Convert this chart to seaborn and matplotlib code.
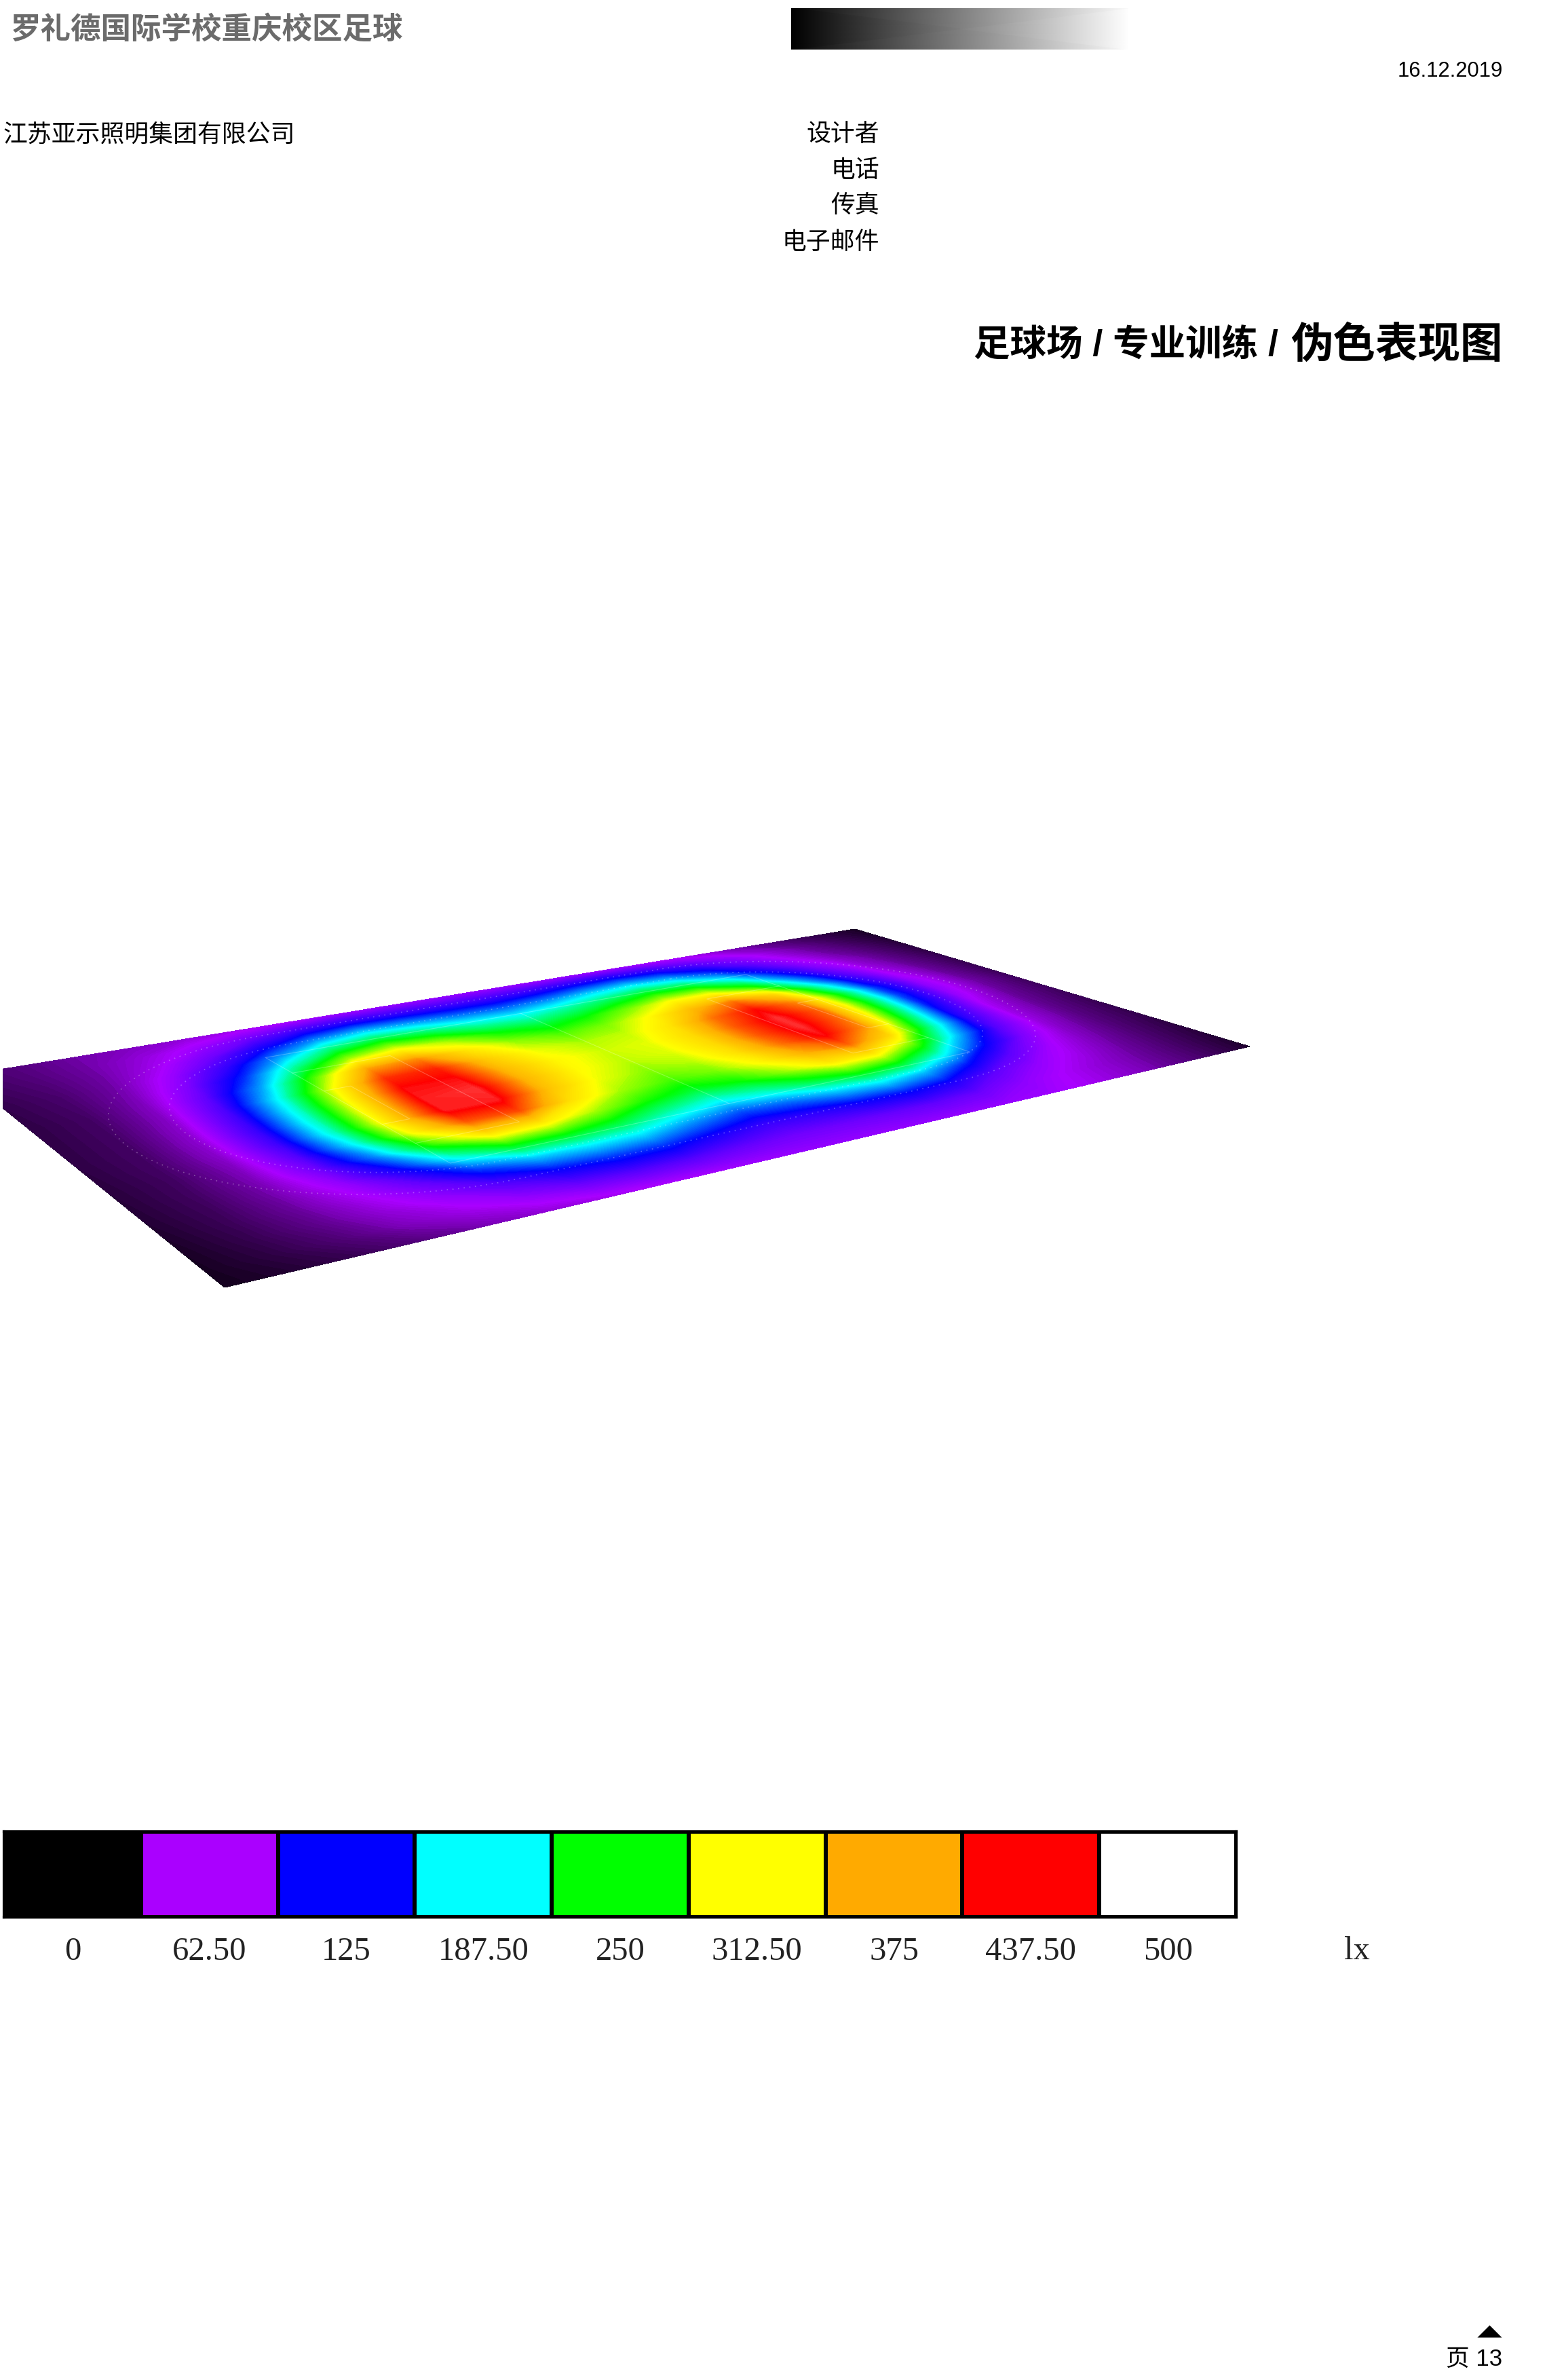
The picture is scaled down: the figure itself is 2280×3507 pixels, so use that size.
import numpy as np
import seaborn as sns
import matplotlib
matplotlib.use('Agg')
from matplotlib import pyplot as plt
from matplotlib.colors import LinearSegmentedColormap, ListedColormap

sns.set_theme(style="white")
plt.rcParams['font.family'] = ['Noto Sans CJK SC', 'DejaVu Sans']

W, H = 2280, 3507

# legend
legend_levels = [0, 62.5, 125, 187.5, 250, 312.5, 375, 437.5, 500]
legend_labels = ["0", "62.50", "125", "187.50", "250", "312.50", "375", "437.50", "500"]
legend_colors = ["#000000", "#aa00ff", "#0000ff", "#00ffff", "#00ff00",
                 "#ffff00", "#ffaa00", "#ff0000", "#ffffff"]

# illuminance on the pitch plane
# rows go from the far long edge to the near one, columns from left end to right end
u_pos = [i / 20 for i in range(21)]
v_pos = [i / 16 for i in range(17)]
lux = [
    [26, 33, 42, 47, 53, 58, 62, 67, 69, 70, 70, 69, 68, 68, 66, 62, 52, 39, 27, 18, 10],
    [24, 32, 42, 54, 68, 86, 106, 115, 112, 108, 106, 111, 120, 125, 116, 96, 74, 53, 36, 23, 12],
    [22, 30, 42, 60, 85, 122, 160, 178, 168, 155, 150, 160, 178, 188, 172, 135, 95, 64, 42, 28, 15],
    [20, 28, 43, 70, 108, 167, 222, 245, 228, 203, 195, 210, 230, 250, 240, 189, 125, 78, 50, 32, 17],
    [19, 27, 45, 80, 135, 218, 290, 315, 288, 250, 235, 250, 280, 315, 315, 255, 165, 96, 56, 35, 20],
    [18, 26, 47, 90, 165, 270, 375, 385, 330, 286, 268, 280, 315, 362, 395, 340, 215, 118, 64, 38, 21],
    [18, 26, 48, 98, 190, 310, 420, 425, 352, 308, 291, 297, 332, 395, 435, 385, 255, 138, 72, 41, 22],
    [18, 26, 50, 103, 200, 325, 440, 440, 362, 318, 299, 305, 340, 405, 450, 400, 265, 142, 74, 43, 24],
    [18, 26, 51, 106, 205, 332, 445, 450, 365, 316, 295, 304, 340, 405, 450, 395, 258, 134, 70, 41, 24],
    [17, 26, 50, 104, 205, 335, 445, 445, 358, 308, 284, 295, 335, 395, 440, 380, 240, 120, 62, 38, 24],
    [16, 25, 47, 96, 190, 315, 405, 410, 335, 290, 267, 280, 318, 370, 400, 340, 215, 108, 58, 36, 22],
    [15, 25, 45, 85, 160, 262, 335, 330, 292, 257, 237, 252, 287, 328, 330, 270, 175, 95, 55, 34, 21],
    [14, 24, 43, 72, 122, 197, 250, 252, 238, 209, 190, 205, 235, 258, 248, 197, 128, 80, 50, 32, 20],
    [12, 23, 40, 62, 90, 138, 175, 184, 183, 160, 142, 152, 174, 186, 171, 130, 92, 66, 46, 30, 18],
    [10, 21, 36, 54, 72, 96, 122, 133, 133, 117, 105, 110, 121, 126, 116, 90, 72, 58, 42, 28, 16],
    [9, 18, 30, 46, 58, 72, 87, 94, 94, 88, 84, 85, 88, 90, 86, 73, 62, 51, 39, 26, 14],
    [8, 14, 22, 33, 44, 53, 58, 62, 65, 68, 71, 71, 71, 71, 70, 67, 59, 49, 37, 25, 12],
]

# pitch corners in the page: (u,v) = (0,0), (1,0), (1,1), (0,1)
corners = np.array([[-55, 1585], [1260, 1369], [1842, 1542], [331, 1897]], dtype=float)

# pitch markings in (u,v)
pitch_u = [.24, .775, .775, .24, .24]
pitch_v = [.17, .17, .77, .77, .17]
marking_lines = [
    ([.505, .505], [.17, .77]),
    ([.24, .335, .335, .24], [.27, .27, .67, .67]),
    ([.775, .685, .685, .775], [.27, .27, .67, .67]),
    ([.24, .265, .265, .24], [.38, .38, .57, .57]),
    ([.775, .75, .75, .775], [.38, .38, .57, .57]),
]
# running track: u range, v range, arc depth along u
tracks = [(.05, .93, .05, .875, .22), (.10, .88, .12, .80, .18)]


def page_axes(fig, x0, y0, x1, y1):
    return fig.add_axes([x0 / W, 1 - y1 / H, (x1 - x0) / W, (y1 - y0) / H])


def homography(c):
    # unit square -> quad
    A, b = [], []
    for (u, v), (x, y) in zip([(0, 0), (1, 0), (1, 1), (0, 1)], c):
        A.append([u, v, 1, 0, 0, 0, -u * x, -v * x])
        A.append([0, 0, 0, u, v, 1, -u * y, -v * y])
        b += [x, y]
    return np.append(np.linalg.solve(np.array(A), np.array(b)), 1).reshape(3, 3)


def to_page(m, u, v):
    u, v = np.asarray(u, dtype=float), np.asarray(v, dtype=float)
    d = m[2, 0] * u + m[2, 1] * v + m[2, 2]
    return (m[0, 0] * u + m[0, 1] * v + m[0, 2]) / d, (m[1, 0] * u + m[1, 1] * v + m[1, 2]) / d


def stadium(u0, u1, v0, v1, depth):
    t = np.linspace(-np.pi / 2, np.pi / 2, 40)
    vc, vr = (v0 + v1) / 2, (v1 - v0) / 2
    us = np.r_[u1 - depth + depth * np.cos(t), u0 + depth - depth * np.cos(t), u1 - depth]
    vs = np.r_[vc + vr * np.sin(t), vc - vr * np.sin(t), v0]
    return us, vs


fig = plt.figure(figsize=(W / 100, H / 100), dpi=100, facecolor="white")

# whole page axes, pixel coordinates, left edge of the picture cut at x=4
ax = page_axes(fig, 4, 0, W, H)
ax.set_xlim(4, W)
ax.set_ylim(H, 0)
ax.axis("off")

field_cmap = LinearSegmentedColormap.from_list(
    "lux", [(lv / 500, c) for lv, c in zip(legend_levels, legend_colors)])
m = homography(corners)
uu, vv = np.meshgrid(u_pos, v_pos)
X, Y = to_page(m, uu, vv)
ax.contourf(X, Y, np.array(lux, dtype=float), levels=np.linspace(0, 500, 251),
            cmap=field_cmap, vmin=0, vmax=500, extend="both")

# pitch lines and track, very faint in the reference
px, py = to_page(m, pitch_u, pitch_v)
ax.plot(px, py, color="white", lw=0.8, alpha=0.25)
for lu, lv in marking_lines:
    lx, ly = to_page(m, lu, lv)
    ax.plot(lx, ly, color="white", lw=0.8, alpha=0.25)
for tr in tracks:
    tu, tv = stadium(*tr)
    tx, ty = to_page(m, tu, tv)
    ax.plot(tx, ty, color="white", lw=1.2, alpha=0.3, ls=(0, (1, 4)))

# legend strip
lax = page_axes(fig, 6, 2699, 1822, 2825)
sns.heatmap(np.array([legend_levels]), cmap=ListedColormap(legend_colors), vmin=-31.25, vmax=531.25,
            cbar=False, linewidths=3, linecolor="black", xticklabels=legend_labels,
            yticklabels=False, ax=lax)
for sp in lax.spines.values():
    sp.set_visible(True)
    sp.set_color("black")
    sp.set_linewidth(3)
lax.tick_params(axis="x", length=0, pad=21, labelrotation=0, colors="#222222")
for t in lax.get_xticklabels():
    t.set_family("Liberation Serif")
    t.set_fontsize(35)
ax.text(2000, 2875, "lx", fontsize=35, family="Liberation Serif", ha="center", va="center", color="#222222")

# header
ax.text(16, 44, "罗礼德国际学校重庆校区足球", fontsize=32, fontweight="bold", color="#6b6b6b", va="center")
gax = page_axes(fig, 1166, 12, 1663, 73)
gax.pcolormesh([0, 1], [0, 1], [[0, 1], [0, 1]], shading="gouraud", cmap="gray", vmin=0, vmax=1)
gax.axis("off")
ax.text(2215, 105, "16.12.2019", fontsize=22.3, family="Liberation Sans", ha="right", va="center", color="black")
ax.text(5, 199, "江苏亚示照明集团有限公司", fontsize=25.8, va="center", color="black")
for label, y in zip(["设计者", "电话", "传真", "电子邮件"], [198, 251, 303, 357]):
    ax.text(1296, y, label, fontsize=25.8, ha="right", va="center", color="black")
ax.text(1884, 510, "足球场 / 专业训练 /", fontsize=38.5, fontweight="bold", family=["Liberation Sans", "Noto Sans CJK SC"],
        ha="right", va="center", color="black")
ax.text(2215, 508, "伪色表现图", fontsize=45, fontweight="bold", ha="right", va="center", color="black")

# footer
ax.plot([2195], [3444], marker=[(-1, 0), (1, 0), (0, 1)], ms=26, color="black", mew=0, clip_on=False)
ax.text(2214, 3476, "页 13", fontsize=25, family=["Liberation Sans", "Noto Sans CJK SC"],
        ha="right", va="center", color="black")

fig.savefig("out.png", dpi=100)
